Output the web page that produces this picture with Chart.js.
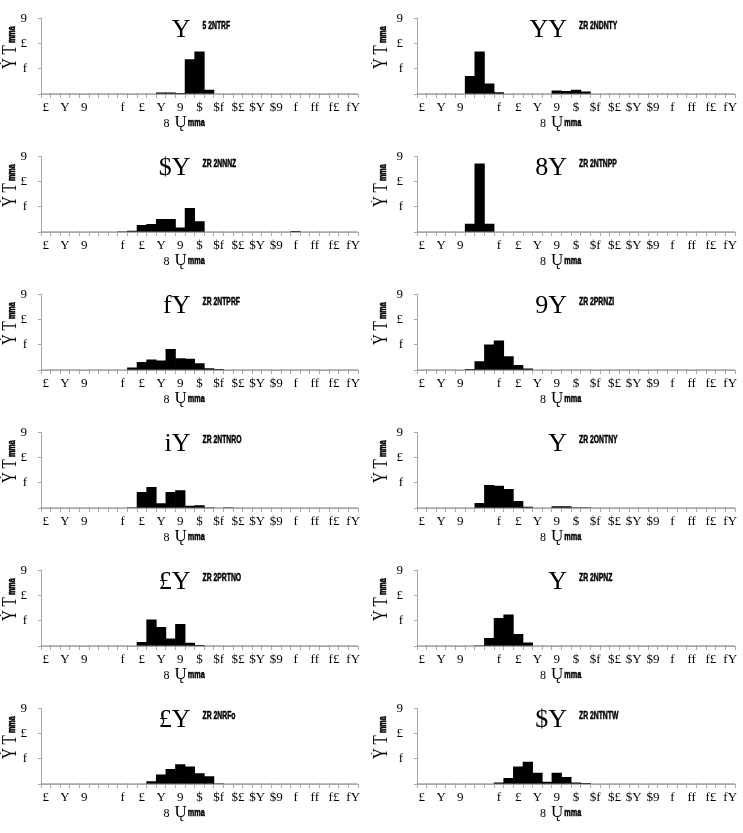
<!DOCTYPE html>
<html><head><meta charset="utf-8">
<script src="https://cdn.jsdelivr.net/npm/chart.js@4/dist/chart.umd.min.js"></script>
<style>
html,body{margin:0;padding:0;background:#fff;}
#wrap{position:relative;width:743px;height:833px;overflow:hidden;}
.cell{position:absolute;}
</style></head><body><div id="wrap"></div>
<script>
// ---- data ----
const xTickLabels = ["£","Y","9","","f","£","Y","9","$","$f","$£","$Y","$9","f","ff","f£","fY"];
const yTickLabels = ["","f","£","9"];
const bigTitles = ["Y","YY","$Y","8Y","fY","9Y","iY","Y","£Y","Y","£Y","$Y"];
const smallTitles = ["5 2NTRF","ZR 2NDNTY","ZR 2NNNZ","ZR 2NTNPP","ZR 2NTPRF","ZR 2PRNZI","ZR 2NTNRO","ZR 2ONTNY","ZR 2PRTNO","ZR 2NPNZ","ZR 2NRFo","ZR 2NTNTW"];
const yTitleBig = "ẎT";
const yTitleSmall = "mma";
const xTitleA = "8";
const xTitleB = "Ų";
const xTitleSmall = "mma";

const panel1  = [0,0,0,0,0,0,0,0,0,0,0,0,0.05,0.05,0.01,1.37,1.68,0.16,0,0,0,0,0,0,0,0,0,0,0,0,0,0,0];
const panel2  = [0,0,0,0,0,0.70,1.68,0.41,0.06,0,0,0,0,0,0.13,0.11,0.16,0.09,0,0,0,0,0,0,0,0,0,0,0,0,0,0,0];
const panel3  = [0,0,0,0,0,0,0,0,0.02,0.04,0.27,0.31,0.51,0.51,0.17,0.94,0.42,0,0,0,0,0,0,0,0,0,0.01,0,0,0,0,0,0];
const panel4  = [0,0,0,0,0,0.32,2.72,0.32,0,0,0,0,0,0,0,0,0,0,0,0,0,0,0,0,0,0,0,0,0,0,0,0,0];
const panel5  = [0,0,0,0,0,0,0,0,0,0.09,0.31,0.41,0.37,0.82,0.46,0.44,0.26,0.06,0.01,0,0,0,0,0,0,0,0,0,0,0,0,0,0];
const panel6  = [0,0,0,0,0,0.01,0.34,1.00,1.16,0.54,0.19,0.05,0,0,0,0,0,0,0,0,0,0,0,0,0,0,0,0,0,0,0,0,0];
const panel7  = [0,0,0,0,0,0,0,0,0,0.02,0.63,0.82,0.18,0.63,0.69,0.08,0.10,0.02,0,0.02,0,0,0,0,0,0,0,0,0,0,0,0,0];
const panel8  = [0,0,0,0,0,0,0.19,0.90,0.87,0.74,0.27,0.04,0,0,0.06,0.06,0.02,0.02,0,0,0,0,0,0,0,0,0,0,0,0,0,0,0];
const panel9  = [0,0,0,0,0,0,0,0,0,0,0.15,1.04,0.74,0.29,0.86,0.12,0.01,0,0,0,0,0,0,0,0,0,0,0,0,0,0,0,0];
const panel10 = [0,0,0,0,0,0,0.02,0.31,1.10,1.24,0.47,0.13,0,0,0,0,0,0,0,0,0,0,0,0,0,0,0,0,0,0,0,0,0];
const panel11 = [0,0,0,0,0,0,0,0,0,0,0,0.10,0.37,0.59,0.77,0.68,0.42,0.30,0.02,0,0,0,0,0,0,0,0,0,0,0,0,0,0];
const panel12 = [0,0,0,0,0,0,0,0,0.05,0.23,0.68,0.87,0.44,0.08,0.44,0.27,0.05,0.01,0,0,0,0,0,0,0,0,0,0,0,0,0,0,0];

const panels = [panel1,panel2,panel3,panel4,panel5,panel6,panel7,panel8,panel9,panel10,panel11,panel12];
const binCategories = [];
for (let i = 0; i < 33; i++) binCategories.push(i % 2 === 0 ? xTickLabels[i / 2] : "");

// ---- drawing ----
const AXIS = '#a8a8a8';
function heavyText(ctx, s, x, y) {
  ctx.fillText(s, x, y);
  ctx.lineWidth = 0.5;
  ctx.strokeStyle = '#000';
  ctx.strokeText(s, x, y);
}
const textPlugin = {
  id: 'panelText',
  afterDraw(chart, args, o) {
    const ctx = chart.ctx, a = chart.chartArea;
    const cx = (a.left + a.right) / 2;
    ctx.save();
    ctx.fillStyle = '#000';
    ctx.textBaseline = 'alphabetic';
    // title
    ctx.font = "26px 'Liberation Serif'";
    ctx.textAlign = 'right';
    ctx.fillText(o.big, cx - 9, 37);
    ctx.textAlign = 'left';
    ctx.save();
    ctx.translate(cx + 3, 29);
    ctx.scale(0.62, 1);
    ctx.font = "bold 11px 'Liberation Sans'";
    heavyText(ctx, o.small, 0, 0);
    ctx.restore();
    // x title
    let x = cx - 36;
    ctx.font = "12px 'Liberation Serif'";
    ctx.fillText(xTitleA, x, 127);
    x += ctx.measureText(xTitleA).width + 5;
    ctx.font = "17px 'Liberation Serif'";
    ctx.fillText(xTitleB, x, 127);
    x += ctx.measureText(xTitleB).width + 1;
    ctx.save();
    ctx.translate(x, 126);
    ctx.scale(0.66, 1);
    ctx.font = "bold 11px 'Liberation Sans'";
    heavyText(ctx, xTitleSmall, 0, 0);
    ctx.restore();
    // y title
    ctx.save();
    ctx.translate(16, 69);
    ctx.rotate(-Math.PI / 2);
    ctx.save();
    ctx.scale(0.72, 1);
    ctx.font = "21px 'Liberation Serif'";
    ctx.fillText(yTitleBig.charAt(0), 0, 0);
    let w = ctx.measureText(yTitleBig.charAt(0)).width + 5;
    ctx.fillText(yTitleBig.charAt(1), w, 0);
    w += ctx.measureText(yTitleBig.charAt(1)).width + 3;
    ctx.restore();
    ctx.translate(w * 0.72, -1);
    ctx.scale(0.66, 1);
    ctx.font = "bold 11px 'Liberation Sans'";
    heavyText(ctx, yTitleSmall, 0, 0);
    ctx.restore();
    ctx.restore();
  }
};

const wrap = document.getElementById('wrap');
const rowTops = [0, 138, 276, 414, 552, 690];
panels.forEach((vals, i) => {
  const col = i % 2, row = Math.floor(i / 2);
  const div = document.createElement('div');
  div.className = 'cell';
  const w = col === 0 ? 371 : 372;
  div.style.left = (col === 0 ? 0 : 371) + 'px';
  div.style.top = rowTops[row] + 'px';
  div.style.width = w + 'px';
  div.style.height = '138px';
  const cv = document.createElement('canvas');
  cv.width = w; cv.height = 138;
  cv.style.width = w + 'px'; cv.style.height = '138px';
  div.appendChild(cv);
  wrap.appendChild(div);
  const yW = col === 0 ? 41 : 46;
  new Chart(cv, {
    type: 'bar',
    data: {
      labels: binCategories,
      datasets: [{
        data: vals,
        backgroundColor: '#000',
        borderWidth: 0,
        barPercentage: 1,
        categoryPercentage: 1
      }]
    },
    options: {
      responsive: false,
      animation: false,
      devicePixelRatio: 1,
      layout: { padding: { top: 15, right: col === 0 ? 13 : 8, left: 0, bottom: 0 } },
      plugins: {
        legend: { display: false },
        tooltip: { enabled: false },
        panelText: { big: bigTitles[i], small: smallTitles[i] }
      },
      scales: {
        x: {
          offset: true,
          afterFit: s => { s.height = 44; },
          grid: { offset: true, drawOnChartArea: false, drawTicks: true, tickLength: 4, color: AXIS },
          border: { display: true, color: AXIS },
          ticks: {
            autoSkip: false, maxRotation: 0, minRotation: 0, padding: 2,
            color: '#000',
            font: { family: "'Liberation Serif'", size: 13 }
          }
        },
        y: {
          min: 0, max: 3,
          afterFit: s => { s.width = yW; },
          grid: { drawOnChartArea: false, drawTicks: true, tickLength: 3, color: AXIS },
          border: { display: true, color: AXIS },
          ticks: {
            stepSize: 1, padding: 11, color: '#000',
            font: { family: "'Liberation Serif'", size: 13 },
            callback: v => yTickLabels[v] ?? ''
          }
        }
      }
    },
    plugins: [textPlugin]
  });
});
</script></body></html>
